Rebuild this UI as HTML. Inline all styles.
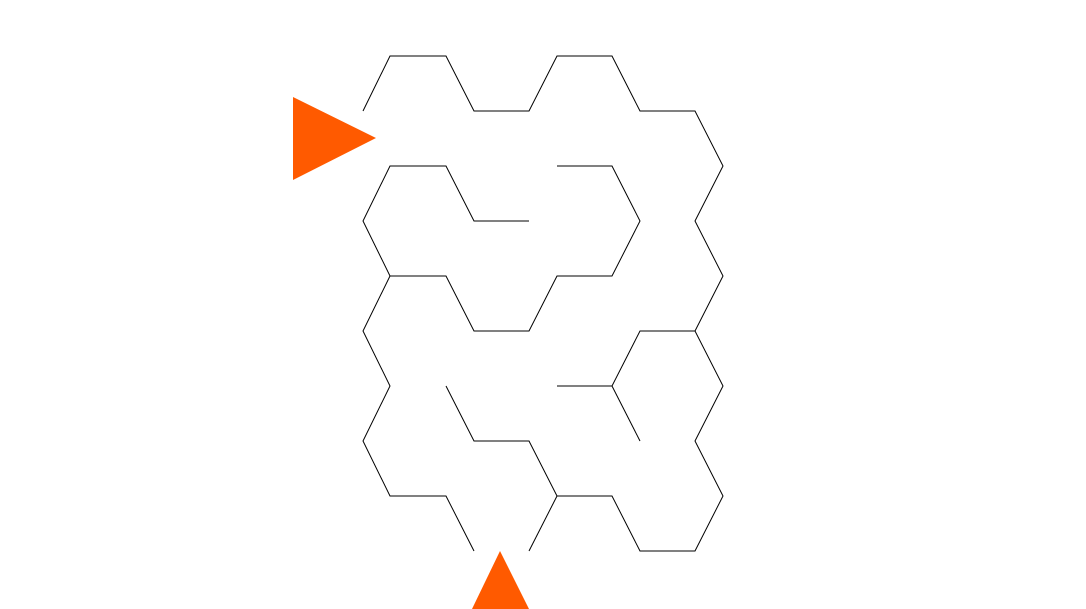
<!DOCTYPE html>
<html><head><meta charset="utf-8"><style>
html,body{margin:0;padding:0;background:#fff;}
svg{display:block;}
</style></head><body>
<svg id="maze" width="1086" height="609" viewBox="0 0 1086 609" xmlns="http://www.w3.org/2000/svg">
<polygon points="293,97 293,180 376,138" fill="#ff5a00"/>
<polygon points="472,609 529,609 500,551" fill="#ff5a00"/>
</svg>
<script>
// grid columns and rows (hex lattice)
const cols = [363, 390, 446, 474, 529, 557, 612, 640, 695, 723];
const rows = [56, 111, 166, 221, 276, 331, 386, 441, 496, 551];
// wall paths as [colIndex,rowIndex] pairs
const walls = [
  [[0,1],[1,0],[2,0],[3,1],[4,1],[5,0],[6,0],[7,1],[8,1],[9,2],[8,3],[9,4],[8,5],[9,6],[8,7],[9,8],[8,9],[7,9],[6,8],[5,8],[4,7],[3,7],[2,6]],
  [[8,5],[7,5],[6,6],[5,6]],
  [[6,6],[7,7]],
  [[5,8],[4,9]],
  [[4,3],[3,3],[2,2],[1,2],[0,3],[1,4],[2,4],[3,5],[4,5],[5,4],[6,4],[7,3],[6,2],[5,2]],
  [[1,4],[0,5],[1,6],[0,7],[1,8],[2,8],[3,9]]
];
const svg = document.getElementById('maze');
walls.forEach((w, i) => {
  const pl = document.createElementNS('http://www.w3.org/2000/svg', 'polyline');
  pl.setAttribute('points', w.map(p => cols[p[0]] + ',' + rows[p[1]]).join(' '));
  pl.setAttribute('fill', 'none');
  pl.setAttribute('stroke', '#000');
  pl.setAttribute('stroke-width', '1');
  
  
  svg.insertBefore(pl, svg.firstChild);
});
</script>
</body></html>
